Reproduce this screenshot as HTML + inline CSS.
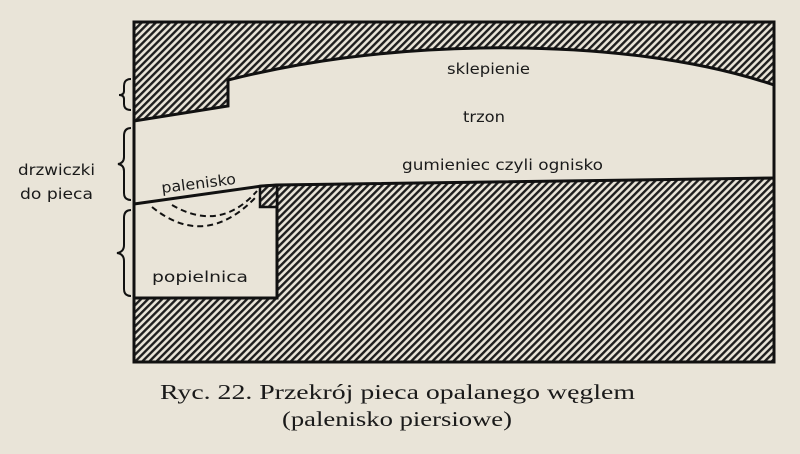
<!DOCTYPE html>
<html><head><style>
html,body{margin:0;padding:0;background:#e9e4d8;}
svg{display:block}
text{font-family:"DejaVu Sans","Liberation Sans",sans-serif;fill:#1a1a1a}
</style></head><body>
<svg width="800" height="454" viewBox="0 0 800 454" xmlns="http://www.w3.org/2000/svg">
<defs>
<pattern id="h" patternUnits="userSpaceOnUse" width="5" height="5" patternTransform="rotate(45)">
<rect width="5" height="5" fill="#e9e4d8"/>
<rect width="2.4" height="5" fill="#1e1e1e"/>
</pattern>
</defs>
<rect width="800" height="454" fill="#e9e4d8"/>
<rect x="134" y="22" width="640" height="340" fill="#e9e4d8"/>
<path d="M134,22 H774 V85 C700,60 600,46 480,48 C380,50 300,62 228,80 V106 L134,121 Z" fill="url(#h)" stroke="#111" stroke-width="3"/>
<path d="M134,362 V298 H277 V185 L774,178 V362 Z" fill="url(#h)" stroke="#111" stroke-width="3"/>
<path d="M260,186 V207 H277 V185 Z" fill="url(#h)" stroke="#111" stroke-width="2.5"/>
<path d="M134,204 L262,186 L277,185" fill="none" stroke="#111" stroke-width="3"/>
<path d="M134,204 V298 H277 V207" fill="none" stroke="#111" stroke-width="3"/>
<rect x="134" y="22" width="640" height="340" fill="none" stroke="#111" stroke-width="3"/>
<path d="M152,207 Q205,250 256,197" fill="none" stroke="#111" stroke-width="2" stroke-dasharray="6,4"/>
<path d="M172,205 Q220,233 257,191" fill="none" stroke="#111" stroke-width="2" stroke-dasharray="6,4"/>
<path d="M131,79 Q124,79 124,86 V91 Q124,95 119,95 Q124,95 124,99 V104 Q124,110 131,110" fill="none" stroke="#111" stroke-width="2"/>
<path d="M131,128 Q124,128 124,136 V157 Q124,163 118,164 Q124,165 124,171 V193 Q124,200 131,200" fill="none" stroke="#111" stroke-width="2"/>
<path d="M131,210 Q124,210 124,218 V245 Q124,252 117,253 Q124,254 124,261 V289 Q124,296 131,296" fill="none" stroke="#111" stroke-width="2"/>
<text x="447" y="74" font-size="15" textLength="83" lengthAdjust="spacingAndGlyphs">sklepienie</text>
<text x="463" y="122" font-size="15" textLength="42" lengthAdjust="spacingAndGlyphs">trzon</text>
<text x="402" y="170" font-size="15" textLength="201" lengthAdjust="spacingAndGlyphs">gumieniec czyli ognisko</text>
<text x="162" y="193" font-size="15" textLength="75" lengthAdjust="spacingAndGlyphs" transform="rotate(-7 162 193)">palenisko</text>
<text x="152" y="282" font-size="15" textLength="96" lengthAdjust="spacingAndGlyphs">popielnica</text>
<text x="18" y="175" font-size="15" textLength="77" lengthAdjust="spacingAndGlyphs">drzwiczki</text>
<text x="20" y="199" font-size="15" textLength="73" lengthAdjust="spacingAndGlyphs">do pieca</text>
<text x="160" y="399" font-size="21" textLength="475" lengthAdjust="spacingAndGlyphs" style="font-family:'Liberation Serif','DejaVu Serif',serif">Ryc. 22. Przekrój pieca opalanego węglem</text>
<text x="282" y="426" font-size="21" textLength="230" lengthAdjust="spacingAndGlyphs" style="font-family:'Liberation Serif','DejaVu Serif',serif">(palenisko piersiowe)</text>
</svg>
</body></html>
